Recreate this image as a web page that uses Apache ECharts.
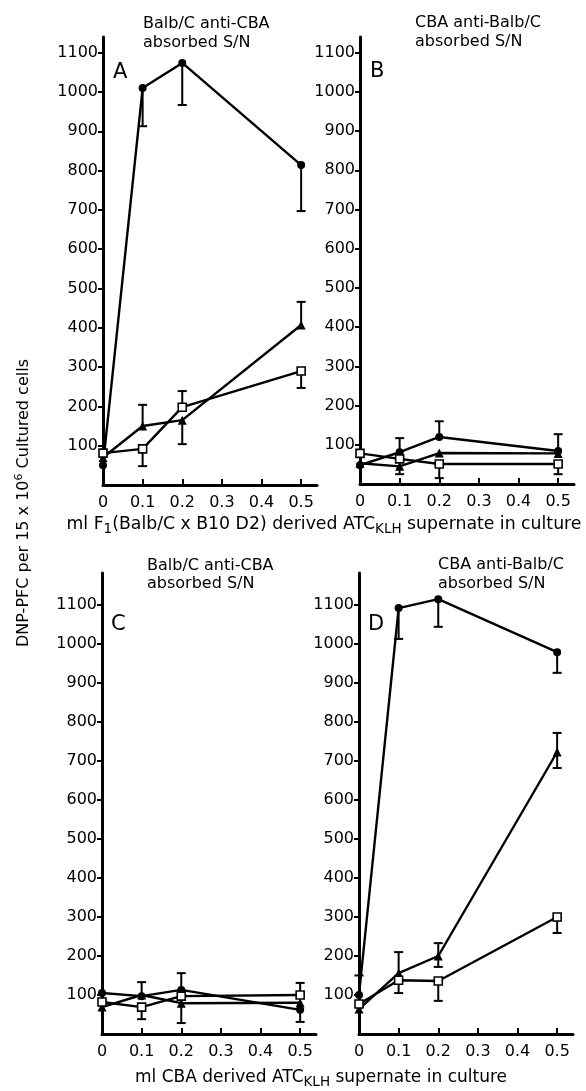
<!DOCTYPE html>
<html><head><meta charset="utf-8">
<script src="https://cdn.jsdelivr.net/npm/echarts@6/dist/echarts.min.js"></script>
<style>html,body{margin:0;padding:0;background:#fff}#c{width:586px;height:1091px}</style>
</head><body><div id="c"></div>
<script>
// ---- data ----
const xValues = [0, 0.1, 0.2, 0.5];
const xTickValues = [0, 0.1, 0.2, 0.3, 0.4, 0.5];
const yTickValues = [100, 200, 300, 400, 500, 600, 700, 800, 900, 1000, 1100];

// Panel A
const A_circle = [50, 1010, 1074, 814];
const A_circleLo = [null, 913, 967, 697];
const A_circleHi = [null, null, null, null];
const A_tri = [70, 150, 165, 407];
const A_triLo = [null, null, 104, null];
const A_triHi = [null, 204, null, 466];
const A_sq = [81, 92, 198, 290];
const A_sqLo = [null, 48, null, 247];
const A_sqHi = [null, null, 239, null];

// Panel B
const B_circle = [48, 81, 120, 84];
const B_circleLo = [null, null, null, null];
const B_circleHi = [null, 117, 160, 127];
const B_tri = [53, 45, 79, 78];
const B_triLo = [null, 25, null, null];
const B_triHi = [null, null, null, null];
const B_sq = [78, 64, 51, 51];
const B_sqLo = [null, null, 15, 25];
const B_sqHi = [null, null, null, null];

// Panel C
const C_circle = [105, 97, 113, 62];
const C_circleLo = [null, null, null, 31];
const C_circleHi = [null, 133, 156, null];
const C_tri = [69, 100, 79, 80];
const C_triLo = [null, null, 28, null];
const C_triHi = [null, null, null, null];
const C_sq = [82, 69, 97, 100];
const C_sqLo = [null, 38, null, null];
const C_sqHi = [null, null, null, 131];

// Panel D
const D_circle = [100, 1092, 1115, 979];
const D_circleLo = [null, 1013, 1044, 926];
const D_circleHi = [150, null, null, null];
const D_tri = [64, 156, 200, 723];
const D_triLo = [null, null, 172, 682];
const D_triHi = [null, 210, 233, 772];
const D_sq = [77, 138, 136, 300];
const D_sqLo = [null, 105, 85, 259];
const D_sqHi = [null, null, null, null];

const titleTop = ['Balb/C anti-CBA', 'absorbed S/N'];
const titleTopB = ['CBA anti-Balb/C', 'absorbed S/N'];
const titleC = ['Balb/C anti-CBA', 'absorbed S/N'];
const titleD = ['CBA anti-Balb/C', 'absorbed S/N'];
const panelLetters = ['A', 'B', 'C', 'D'];

// ---- build ----
const FONT = 'DejaVu Sans';
const panels = [
  {grid: {left: 103, top: 37, width: 214, height: 448}, yMax: 1140,
   s: [[A_circle, A_circleLo, A_circleHi, 'circle'], [A_tri, A_triLo, A_triHi, 'triangle'], [A_sq, A_sqLo, A_sqHi, 'rect']]},
  {grid: {left: 360, top: 37, width: 214, height: 447}, yMax: 1140,
   s: [[B_circle, B_circleLo, B_circleHi, 'circle'], [B_tri, B_triLo, B_triHi, 'triangle'], [B_sq, B_sqLo, B_sqHi, 'rect']]},
  {grid: {left: 102, top: 573, width: 214, height: 461}, yMax: 1182,
   s: [[C_circle, C_circleLo, C_circleHi, 'circle'], [C_tri, C_triLo, C_triHi, 'triangle'], [C_sq, C_sqLo, C_sqHi, 'rect']]},
  {grid: {left: 359, top: 573, width: 214, height: 461}, yMax: 1182,
   s: [[D_circle, D_circleLo, D_circleHi, 'circle'], [D_tri, D_triLo, D_triHi, 'triangle'], [D_sq, D_sqLo, D_sqHi, 'rect']]}
];

const grids = [], xAxes = [], yAxes = [], series = [];
panels.forEach((p, i) => {
  grids.push(Object.assign({containLabel: false}, p.grid));
  xAxes.push({
    type: 'value', gridIndex: i, min: 0, max: 0.54,
    axisLine: {lineStyle: {color: '#000', width: 3}},
    axisTick: {inside: true, length: 6, lineStyle: {color: '#000', width: 2}, customValues: xTickValues.slice(1)},
    axisLabel: {customValues: xTickValues, color: '#000', fontFamily: FONT, fontSize: 16, margin: 10,
      formatter: v => v === 0 ? '0' : v.toFixed(1)},
    splitLine: {show: false}
  });
  yAxes.push({
    type: 'value', gridIndex: i, min: 0, max: p.yMax,
    axisLine: {show: true, lineStyle: {color: '#000', width: 3}},
    axisTick: {show: true, length: 5, lineStyle: {color: '#000', width: 2}, customValues: yTickValues},
    axisLabel: {customValues: yTickValues, color: '#000', fontFamily: FONT, fontSize: 16, margin: 5,
      formatter: v => String(v)},
    splitLine: {show: false}
  });
  p.s.forEach(([vals, lo, hi, sym]) => {
    const err = [];
    vals.forEach((v, k) => {
      if (lo[k] != null) err.push([xValues[k], lo[k], v]);
      if (hi[k] != null) err.push([xValues[k], hi[k], v]);
    });
    series.push({
      type: 'custom', xAxisIndex: i, yAxisIndex: i, z: 1, silent: true,
      data: err,
      renderItem: (params, api) => {
        const x = api.value(0), e = api.value(1), m = api.value(2);
        const pe = api.coord([x, e]), pm = api.coord([x, m]);
        return {type: 'group', children: [
          {type: 'line', shape: {x1: pm[0], y1: pm[1], x2: pe[0], y2: pe[1]}, style: {stroke: '#000', lineWidth: 2}},
          {type: 'line', shape: {x1: pe[0] - 4.5, y1: pe[1], x2: pe[0] + 4.5, y2: pe[1]}, style: {stroke: '#000', lineWidth: 2}}
        ]};
      }
    });
    series.push({
      type: 'line', xAxisIndex: i, yAxisIndex: i, z: 3, silent: true,
      data: vals.map((v, k) => [xValues[k], v]),
      symbol: sym, symbolSize: sym === 'triangle' ? 9 : 8,
      itemStyle: {color: sym === 'rect' ? '#fff' : '#000', borderColor: '#000', borderWidth: sym === 'rect' ? 1.6 : 0},
      lineStyle: {color: '#000', width: 2.4}
    });
  });
});

const txt = (left, top, text, extra) => ({type: 'text', left, top, silent: true,
  style: Object.assign({text, fill: '#000', font: '16px "' + FONT + '"'}, extra || {})});

const graphics = [
  txt(143, 14, titleTop.join('\n'), {lineHeight: 19}),
  txt(415, 13, titleTopB.join('\n'), {lineHeight: 19}),
  txt(147, 557, titleC.join('\n'), {lineHeight: 18}),
  txt(438, 555, titleD.join('\n'), {lineHeight: 19}),
  txt(113, 62, panelLetters[0], {font: '21px "' + FONT + '"'}),
  txt(370, 61, panelLetters[1], {font: '21px "' + FONT + '"'}),
  txt(111, 614, panelLetters[2], {font: '21px "' + FONT + '"'}),
  txt(368, 614, panelLetters[3], {font: '21px "' + FONT + '"'}),
  {type: 'text', x: 324, y: 525, silent: true,
   style: {text: '{a|ml F}{s|1}{a|(Balb/C x B10 D2) derived ATC}{s|KLH}{a| supernate in culture}',
     align: 'center', verticalAlign: 'middle',
     rich: {a: {fontFamily: FONT, fontSize: 17.3, fill: '#000', lineHeight: 22},
            s: {fontFamily: FONT, fontSize: 13.5, fill: '#000', padding: [8, 0, 0, 0], lineHeight: 22}}}},
  {type: 'text', x: 321, y: 1078, silent: true,
   style: {text: '{a|ml CBA derived ATC}{s|KLH}{a| supernate in culture}',
     align: 'center', verticalAlign: 'middle',
     rich: {a: {fontFamily: FONT, fontSize: 17, fill: '#000', lineHeight: 22},
            s: {fontFamily: FONT, fontSize: 13.5, fill: '#000', padding: [8, 0, 0, 0], lineHeight: 22}}}},
  {type: 'text', x: 24, y: 503, rotation: Math.PI / 2, silent: true,
   style: {text: '{a|DNP-PFC per 15 x 10}{s|6}{a| Cultured cells}',
     align: 'center', verticalAlign: 'middle',
     rich: {a: {fontFamily: FONT, fontSize: 16, fill: '#000', lineHeight: 22},
            s: {fontFamily: FONT, fontSize: 11, fill: '#000', padding: [0, 0, 9, 0], lineHeight: 22}}}}
];

const chart = echarts.init(document.getElementById('c'), null, {renderer: 'canvas'});
chart.setOption({
  animation: false, backgroundColor: '#fff',
  grid: grids, xAxis: xAxes, yAxis: yAxes, series, graphic: graphics
});
</script></body></html>
